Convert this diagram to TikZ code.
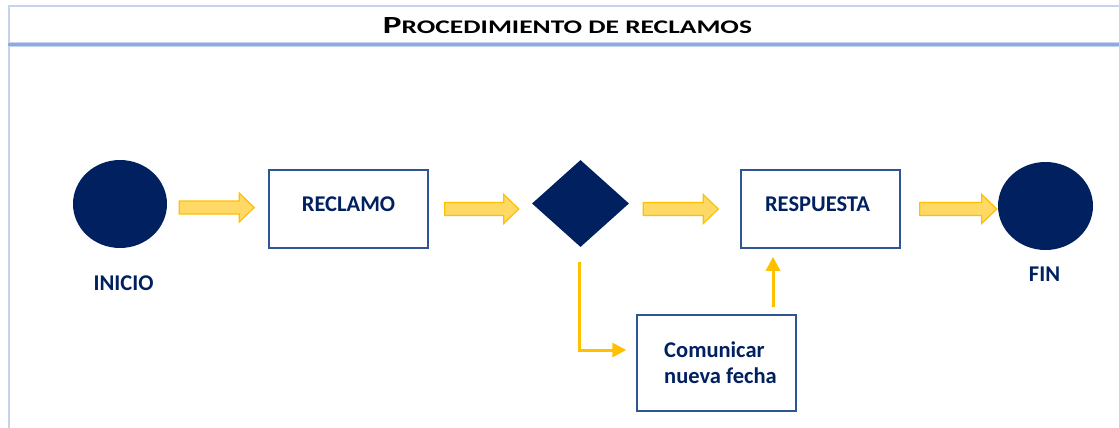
\documentclass[tikz,border=0pt]{standalone}
\usepackage{fontspec}
\setmainfont{Carlito}
\usetikzlibrary{arrows.meta,shapes.geometric,calc}
\definecolor{navy}{HTML}{002060}
\definecolor{boxblue}{HTML}{2F5597}
\definecolor{arrfill}{HTML}{FFD966}
\definecolor{arrline}{HTML}{FFC000}
\definecolor{framelight}{HTML}{C5D4EE}
\definecolor{framemid}{HTML}{8EA9DB}
\newcommand\blockarr[2]{%
  \path[blockarrow] let \p1=(#1), \p2=(#2) in
    (\x1,\y1+6.5pt) -- (\x2-15pt,\y1+6.5pt) -- (\x2-15pt,\y1+14.5pt) -- (\x2,\y1)
    -- (\x2-15pt,\y1-14.5pt) -- (\x2-15pt,\y1-6.5pt) -- (\x1,\y1-6.5pt) -- cycle;}
\begin{document}
\begin{tikzpicture}[x=1pt,y=-1pt,
  terminal/.style={ellipse, fill=navy, draw=none, inner sep=0pt},
  decision/.style={diamond, fill=navy, draw=none, inner sep=0pt},
  procbox/.style={rectangle, draw=boxblue, line width=1.5pt, fill=white, inner sep=0pt, minimum width=159pt},
  boxtext/.style={text=navy, font=\bfseries\fontsize{22.5}{26}\selectfont},
  blockarrow/.style={fill=arrfill, draw=arrline, line width=1.2pt, line join=miter},
  flowline/.style={draw=arrline, line width=3pt, -{Triangle[length=14pt,width=14pt]}}
]
\useasboundingbox (0,0) rectangle (1119,428);
% frame
\draw[framelight, line width=2.4pt] (1119,6.2) -- (8.8,6.2) -- (8.8,428);
\draw[framelight, line width=4.5pt] (7.6,44.5) -- (1119,44.5);
\draw[framemid, line width=2.2pt] (7.6,44.5) -- (1119,44.5);
% title
\node[inner sep=0pt] (title) at (567.5,25.3) {\resizebox{369pt}{16pt}{\bfseries\fontsize{20}{20}\selectfont P\fontsize{15.6}{15.6}\selectfont ROCEDIMIENTO DE RECLAMOS}};
% nodes
\node[terminal, minimum width=94pt, minimum height=88pt] (inicio) at (120,204) {};
\node[procbox, minimum height=78pt, label={[boxtext, yshift=4.5pt]center:RECLAMO}] (reclamo) at (348.5,209) {};
\node[decision, minimum width=97pt, minimum height=87pt] (dia) at (580.5,203.5) {};
\node[procbox, minimum height=78pt, label={[boxtext, yshift=4.5pt, xshift=-3pt]center:RESPUESTA}] (respuesta) at (820.5,209) {};
\node[terminal, minimum width=95pt, minimum height=88pt] (fin) at (1045.5,206) {};
\node[procbox, minimum height=96pt, label={[boxtext, align=left, xshift=4pt]center:Comunicar\\nueva fecha}] (comunicar) at (716.5,363) {};
\node[boxtext] (lblinicio) at (123.5,283) {INICIO};
\node[boxtext] (lblfin) at (1044.5,274) {FIN};
% block arrows
\coordinate (a1s) at ($(inicio.east)+(12,3.5)$);
\coordinate (a1e) at ($(reclamo.west)+(-14,-1.5)$);
\coordinate (a2s) at ($(reclamo.east)+(16,0)$);
\coordinate (a2e) at ($(dia.west)+(-13,5.5)$);
\coordinate (a3s) at ($(dia.east)+(14,5.5)$);
\coordinate (a3e) at ($(respuesta.west)+(-22,0)$);
\coordinate (a4s) at ($(respuesta.east)+(19,0)$);
\coordinate (a4e) at ($(fin.west)+(-1,3)$);
\blockarr{a1s}{a1e}
\blockarr{a2s}{a2e}
\blockarr{a3s}{a3e}
\blockarr{a4s}{a4e}
% elbow and up arrow
\coordinate (e0) at ($(dia.south)+(-1,15)$);
\coordinate (e1) at ($(comunicar.west)+(-10,-13)$);
\draw[flowline] (e0) |- (e1);
\coordinate (u0) at ($(comunicar.north)+(56.5,-7)$);
\coordinate (u1) at ($(respuesta.south)+(-47.5,8)$);
\draw[flowline] (u0) -- (u1);
\end{tikzpicture}
\end{document}
